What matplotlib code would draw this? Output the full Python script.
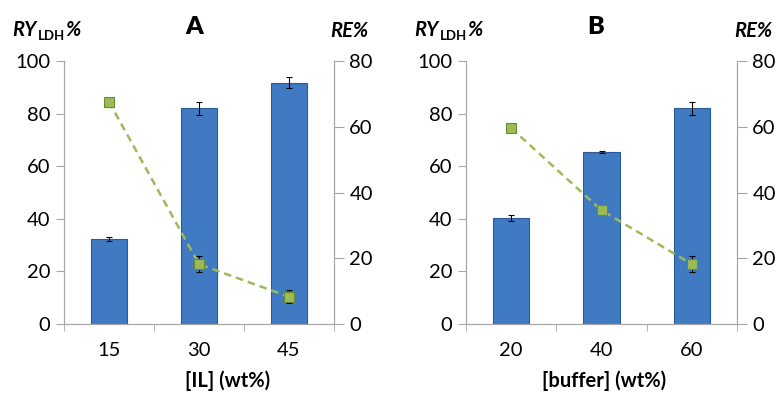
import matplotlib.pyplot as plt
import numpy as np

plt.rcParams['font.family'] = ['Lato', 'DejaVu Sans']

# panel A: ionic liquid concentration
il_labels = ['15', '30', '45']
ry_a = [32.3, 82.0, 91.7]
ry_a_err = [0.8, 2.5, 2.1]
re_a = [67.6, 18.2, 8.3]
re_a_err = [0.0, 2.5, 2.0]

# panel B: buffer concentration
buf_labels = ['20', '40', '60']
ry_b = [40.3, 65.5, 82.0]
ry_b_err = [1.3, 0.3, 2.6]
re_b = [59.6, 34.6, 18.2]
re_b_err = [0.0, 0.0, 2.4]

bar_color = '#3f7ac2'
bar_edge = '#2c5b94'
green = '#9bbb59'
spine_gray = '#a6a6a6'

fig = plt.figure(figsize=(7.81, 3.93), dpi=100)
W, H = 781, 393


def panel(left_px, right_px, labels, ry, ry_err, re, re_err):
    ax = fig.add_axes([left_px / W, 1 - 324 / H, (right_px - left_px) / W, (324 - 61) / H])
    x = np.arange(len(labels))
    ax.bar(x, ry, width=0.4, color=bar_color, edgecolor=bar_edge, linewidth=0.8, zorder=2)
    ax.errorbar(x, ry, yerr=ry_err, fmt='none', ecolor='black', elinewidth=0.8,
                capsize=2, capthick=0.8, zorder=3)
    ax.set_xlim(-0.5, len(labels) - 0.5)
    ax.set_ylim(0, 100)
    ax.set_yticks(range(0, 101, 20))
    ax.set_xticks(x)
    ax.set_xticklabels(labels)
    ax.set_xticks(np.arange(-0.5, len(labels)), minor=True)
    ax.tick_params(axis='x', which='major', length=0, pad=13, labelsize=14.5)
    ax.tick_params(axis='x', which='minor', length=5, color=spine_gray, direction='out')
    ax.tick_params(axis='y', length=6, color=spine_gray, labelsize=14.5, pad=4)
    ax.spines['top'].set_visible(False)
    for s in ['left', 'right', 'bottom']:
        ax.spines[s].set_color(spine_gray)

    ax2 = ax.twinx()
    ax2.set_ylim(0, 80)
    ax2.set_yticks(range(0, 81, 20))
    ax2.tick_params(axis='y', length=7, color=spine_gray, labelsize=14.5, pad=4)
    ax2.spines['top'].set_visible(False)
    for s in ['left', 'right', 'bottom']:
        ax2.spines[s].set_color(spine_gray)
    ax2.plot(x, re, linestyle='--', dashes=(3, 2), color=green, linewidth=1.8, zorder=3)
    errs = np.array(re_err)
    mask = errs > 0
    ax2.errorbar(x[mask], np.array(re)[mask], yerr=errs[mask], fmt='none', ecolor='black',
                 elinewidth=0.8, capsize=2, capthick=0.8, zorder=4)
    ax2.plot(x, re, linestyle='none', marker='s', markersize=7, markerfacecolor=green,
             markeredgecolor='#6b8a2e', markeredgewidth=0.8, zorder=5)
    return ax, ax2


axA, axA2 = panel(64, 334, il_labels, ry_a, ry_a_err, re_a, re_a_err)
axB, axB2 = panel(466, 737, buf_labels, ry_b, ry_b_err, re_b, re_b_err)

# titles and axis labels
fig.text(194 / W, 1 - 27 / H, 'A', ha='center', va='center', fontsize=18, fontweight='heavy')
fig.text(596 / W, 1 - 27 / H, 'B', ha='center', va='center', fontsize=18, fontweight='heavy')
fig.text(228 / W, 1 - 381 / H, '[IL] (wt%)', ha='center', va='center', fontsize=14.5, fontweight='bold')
fig.text(604 / W, 1 - 381 / H, '[buffer] (wt%)', ha='center', va='center', fontsize=14.5, fontweight='bold')
fig.text(349 / W, 1 - 37 / H, 'RE%', ha='center', va='baseline', fontsize=14.5,
         fontweight='bold', style='italic')
fig.text(753 / W, 1 - 37 / H, 'RE%', ha='center', va='baseline', fontsize=14.5,
         fontweight='bold', style='italic')

# RY_LDH% labels assembled from pieces
fig.canvas.draw()
renderer = fig.canvas.get_renderer()
for x0 in (12, 414):
    t1 = fig.text(x0 / W, 1 - 36 / H, 'RY', ha='left', va='baseline', fontsize=14.5,
                  fontweight='bold', style='italic')
    bb = t1.get_window_extent(renderer)
    t2 = fig.text(bb.x1 / W + 0.002, 1 - 40 / H, 'LDH', ha='left', va='baseline', fontsize=9.5,
                  fontweight='bold')
    bb2 = t2.get_window_extent(renderer)
    fig.text(bb2.x1 / W, 1 - 36 / H, '%', ha='left', va='baseline', fontsize=14.5,
             fontweight='bold', style='italic')

fig.savefig('out.png', dpi=100)
